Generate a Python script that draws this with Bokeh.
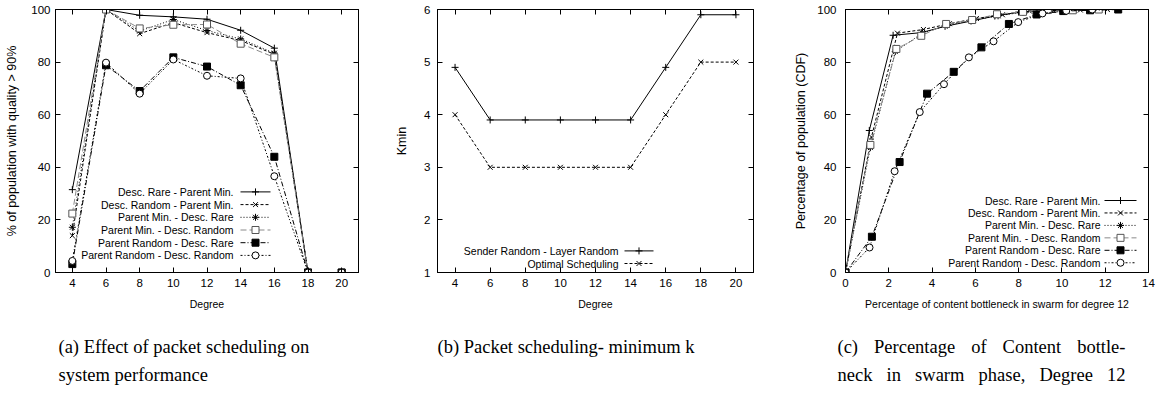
from bokeh.plotting import figure
from bokeh.layouts import row, column
from bokeh.models import LinearAxis, FixedTicker, CustomJSTickFormatter, Range1d
from bokeh.core.properties import value
from bokeh.embed import file_html
from bokeh.resources import INLINE

# ---------------- data ----------------
degree = [4, 6, 8, 10, 12, 14, 16, 18, 20]

series_names = [
    "Desc. Rare - Parent Min.",
    "Desc. Random - Parent Min.",
    "Parent Min. - Desc. Rare",
    "Parent Min. - Desc. Random",
    "Parent Random - Desc. Rare",
    "Parent Random - Desc. Random",
]

# (a) % of population with quality > 90% versus degree
a_rare_pmin = [31.5, 100, 97.8, 97.2, 96.3, 92.1, 85.3, 0, 0]
a_rand_pmin = [14.0, 100, 90.8, 95.0, 91.2, 88.2, 83.0, 0, 0]
a_pmin_rare = [17.2, 100, 91.8, 96.2, 92.0, 88.8, 83.4, 0, 0]
a_pmin_rand = [22.4, 100, 92.8, 94.2, 94.3, 87.0, 81.8, 0, 0]
a_prand_rare = [3.2, 78.8, 69.0, 81.8, 78.3, 71.2, 44.0, 0, 0]
a_prand_rand = [4.4, 79.8, 68.0, 81.0, 74.8, 73.8, 36.6, 0, 0]

# (b) minimum k versus degree
b_names = ["Sender Random - Layer Random", "Optimal Scheduling"]
b_sender_random = [4.9, 3.9, 3.9, 3.9, 3.9, 3.9, 4.9, 5.9, 5.9]
b_optimal = [4, 3, 3, 3, 3, 3, 4, 5, 5]

# (c) CDF of content bottleneck in swarm phase, degree 12
c_rare_pmin_x = [0, 1.1, 2.2, 3.5, 4.6, 5.8, 6.9, 8.0, 9.1, 10.2, 11.3]
c_rare_pmin_y = [0, 54.0, 90.2, 91.2, 93.6, 95.6, 97.5, 99.0, 99.5, 99.7, 100]
c_rand_pmin_x = [0, 1.2, 2.4, 3.6, 4.8, 6.05, 7.25, 8.5, 9.6, 10.85, 12.1]
c_rand_pmin_y = [0, 51.5, 91.0, 92.4, 94.6, 96.6, 98.0, 99.4, 99.6, 99.8, 100]
c_pmin_rare_x = [0, 1.15, 2.3, 3.55, 4.7, 5.9, 7.05, 8.2, 9.4, 10.55, 11.7]
c_pmin_rare_y = [0, 47.5, 84.0, 91.0, 94.0, 96.0, 97.6, 99.0, 99.6, 99.8, 100]
c_pmin_rand_x = [0, 1.15, 2.35, 3.5, 4.65, 5.85, 7.0, 8.2, 9.35, 10.5, 11.7]
c_pmin_rand_y = [0, 48.5, 85.0, 90.0, 94.5, 96.0, 98.2, 99.1, 99.8, 99.7, 100]
c_prand_rare_x = [0, 1.22, 2.5, 3.77, 5.0, 6.28, 7.55, 8.83, 10.06, 11.3, 12.6]
c_prand_rare_y = [0, 13.6, 42.0, 68.0, 76.3, 85.6, 94.5, 98.1, 99.4, 99.7, 100]
c_prand_rand_x = [0, 1.11, 2.27, 3.43, 4.55, 5.7, 6.84, 7.98, 9.1, 10.2, 11.4]
c_prand_rand_y = [0, 9.5, 38.5, 61.0, 71.6, 81.8, 87.9, 95.2, 98.5, 99.5, 100]

x_ticks_degree = [4, 6, 8, 10, 12, 14, 16, 18, 20]
y_ticks_pct = [0, 20, 40, 60, 80, 100]
y_ticks_k = [1, 2, 3, 4, 5, 6]
x_ticks_c = [0, 2, 4, 6, 8, 10, 12, 14]

captions_a = ["(a) Effect of packet scheduling on", "system performance"]
captions_b = ["(b) Packet scheduling- minimum k"]
captions_c = ["(c) Percentage of Content bottle-", "neck in swarm phase, Degree 12"]

# ---------------- styles ----------------
SANS = "Liberation Sans"
SERIF = "Liberation Serif"
GRAY = "#8a8a8a"
CAPTION_SIZE = 18.5

styles = [
    dict(color="black", dash="solid", marker="cross", fill="black", mcolor="black"),
    dict(color="black", dash="3 2", marker="x", fill="black", mcolor="black"),
    dict(color="black", dash="1 2", marker="asterisk", fill="black", mcolor="black"),
    dict(color=GRAY, dash="6 3", marker="square", fill="white", mcolor="#555555"),
    dict(color="black", dash="5 2 1 2", marker="square", fill="black", mcolor="black"),
    dict(color="black", dash="2 2 1 2", marker="circle", fill="white", mcolor="black"),
]

TOP, FRAME_H, BOTTOM = 9, 263, 44
PLOT_H = TOP + FRAME_H + BOTTOM
TOTAL_W, CAP_H = 1159, 78
frame_widths = {}

# advance widths (per em) of the serif caption face, used to justify caption lines
SERIF_ADV = {
    " ": .25, "(": .333, ")": .333, ",": .25, "-": .333, "1": .5, "2": .5,
    "C": .667, "D": .722, "P": .556, "a": .444, "b": .5, "c": .444, "e": .444,
    "f": .333, "g": .5, "h": .5, "i": .278, "k": .5, "l": .278, "m": .778,
    "n": .5, "o": .5, "p": .5, "r": .333, "s": .389, "t": .278, "w": .722,
}


def make_panel(left, frame_w, right, xr, yr, xticks, yticks, xlabel, ylabel,
               tick_standoff, ylabel_standoff):
    p = figure(width=left + frame_w + right, height=PLOT_H,
               x_range=Range1d(*xr), y_range=Range1d(*yr),
               output_backend="svg", toolbar_location=None,
               min_border_left=left, min_border_right=right,
               min_border_top=TOP, min_border_bottom=BOTTOM)
    p.grid.visible = False
    p.outline_line_color = "black"
    p.outline_line_width = 1
    p.background_fill_color = "white"
    p.border_fill_color = "white"
    for ax, ticks in ((p.xaxis[0], xticks), (p.yaxis[0], yticks)):
        ax.ticker = FixedTicker(ticks=ticks)
        ax.major_tick_in = 5
        ax.major_tick_out = 0
        ax.minor_tick_line_color = None
        ax.axis_line_color = "black"
        ax.major_label_text_font = SANS
        ax.major_label_text_font_size = "11.5px"
        ax.major_label_text_color = "black"
        ax.axis_label_text_font = SANS
        ax.axis_label_text_font_style = "normal"
        ax.axis_label_text_color = "black"
    p.xaxis[0].axis_label = xlabel
    p.xaxis[0].axis_label_text_font_size = "10.5px"
    p.xaxis[0].major_label_standoff = 6
    p.xaxis[0].axis_label_standoff = 8
    p.yaxis[0].axis_label = ylabel
    p.yaxis[0].axis_label_text_font_size = "12.5px"
    p.yaxis[0].major_label_standoff = tick_standoff
    p.yaxis[0].axis_label_standoff = ylabel_standoff
    # mirrored ticks on the top and right edges
    blank = CustomJSTickFormatter(code="return ''")
    for side, ticks in (("above", xticks), ("right", yticks)):
        ax = LinearAxis(ticker=FixedTicker(ticks=ticks), formatter=blank,
                        major_tick_in=5, major_tick_out=0,
                        minor_tick_line_color=None, major_label_standoff=0,
                        axis_line_color="black")
        p.add_layout(ax, side)
    frame_widths[p.id] = frame_w
    return p


def to_data(p, fx, fy):
    """Frame pixel offsets (from top-left) to data coordinates."""
    x0, x1 = p.x_range.start, p.x_range.end
    y0, y1 = p.y_range.start, p.y_range.end
    return x0 + fx / frame_widths[p.id] * (x1 - x0), y1 - fy / FRAME_H * (y1 - y0)


def draw_series(p, xs, ys, st):
    p.line(xs, ys, line_color=st["color"], line_dash=st["dash"], line_width=1)
    p.scatter(xs, ys, marker=st["marker"], size=7, line_color=st["mcolor"],
              fill_color=st["fill"], line_width=1)


def draw_key(p, names, sts, text_right, samp_l, samp_r, row0, step):
    for i, (name, st) in enumerate(zip(names, sts)):
        fy = row0 + i * step
        tx, ty = to_data(p, text_right, fy)
        p.text([tx], [ty], text=[name], text_align="right", text_baseline="middle",
               text_font=value(SANS), text_font_size="10.5px", text_color="black")
        lx0, ly = to_data(p, samp_l, fy)
        lx1, _ = to_data(p, samp_r, fy)
        mx, _ = to_data(p, (samp_l + samp_r) / 2, fy)
        p.line([lx0, lx1], [ly, ly], line_color=st["color"], line_dash=st["dash"], line_width=1)
        p.scatter([mx], [ly], marker=st["marker"], size=7, line_color=st["mcolor"],
                  fill_color=st["fill"], line_width=1)


def add_caption(c, lines, left, justify_width=None):
    """Write a sub-figure caption; coordinates are pixels from the strip's top-left."""
    line_y = [30, 58]
    for i, line in enumerate(lines):
        if justify_width is None:
            words, xs = [line], [left]
        else:
            words = line.split(" ")
            widths = [sum(SERIF_ADV.get(ch, .5) for ch in w) * CAPTION_SIZE for w in words]
            gap = (justify_width - sum(widths)) / (len(words) - 1)
            xs, x = [], left
            for w in widths:
                xs.append(x)
                x += w + gap
        c.text(xs, [line_y[i]] * len(words), text=words, text_align="left",
               text_baseline="middle", text_font=value(SERIF),
               text_font_size=f"{CAPTION_SIZE}px", text_color="black")


# ---------------- panel (a) ----------------
pa = make_panel(55, 303, 32, (3, 21), (0, 100), x_ticks_degree, y_ticks_pct,
                "Degree", "% of population with quality > 90%", 5, 9)
a_series = [a_rare_pmin, a_rand_pmin, a_pmin_rare, a_pmin_rand, a_prand_rare, a_prand_rand]
for ys, st in zip(a_series, styles):
    draw_series(pa, degree, ys, st)
draw_key(pa, series_names, styles, 178, 185, 215, 182.4, 12.7)

# ---------------- panel (b) ----------------
pb = make_panel(47, 316, 27, (3, 21), (1, 6), x_ticks_degree, y_ticks_k,
                "Degree", "Kmin", 7, 12)
b_styles = [styles[0], styles[1]]
draw_series(pb, degree, b_sender_random, b_styles[0])
draw_series(pb, degree, b_optimal, b_styles[1])
draw_key(pb, b_names, b_styles, 181, 187, 216, 241.4, 12.6)

# ---------------- panel (c) ----------------
pc = make_panel(65, 303, 11, (0, 14), (0, 100), x_ticks_c, y_ticks_pct,
                "Percentage of content bottleneck in swarm for degree 12",
                "Percentage of population (CDF)", 9, 6)
c_series = [
    (c_rare_pmin_x, c_rare_pmin_y), (c_rand_pmin_x, c_rand_pmin_y),
    (c_pmin_rare_x, c_pmin_rare_y), (c_pmin_rand_x, c_pmin_rand_y),
    (c_prand_rare_x, c_prand_rare_y), (c_prand_rand_x, c_prand_rand_y),
]
for (xs, ys), st in zip(c_series, styles):
    draw_series(pc, xs, ys, st)
draw_key(pc, series_names, styles, 255, 259, 291, 191, 12.45)

# ---------------- caption strip ----------------
cap = figure(width=TOTAL_W, height=CAP_H, x_range=Range1d(0, TOTAL_W),
             y_range=Range1d(CAP_H, 0), x_axis_type=None, y_axis_type=None,
             output_backend="svg", toolbar_location=None, min_border=0)
cap.grid.visible = False
cap.outline_line_color = None
add_caption(cap, captions_a, 58)
add_caption(cap, captions_b, 437)
add_caption(cap, captions_c, 837, justify_width=288)

layout = column(row(pa, pb, pc, spacing=0), cap, spacing=0)
open("out.html", "w").write(file_html(layout, INLINE))
